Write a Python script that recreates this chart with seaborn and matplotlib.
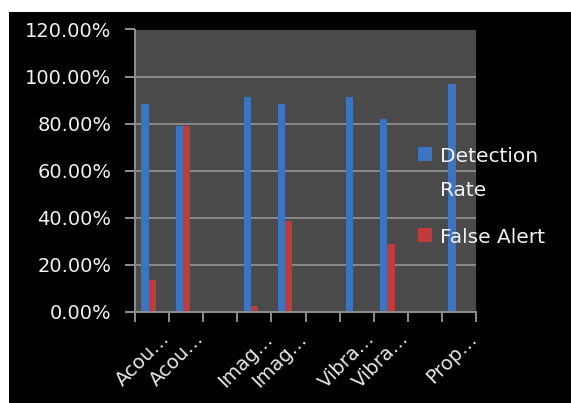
import matplotlib
matplotlib.use("Agg")
import matplotlib.pyplot as plt
import matplotlib.transforms as mtransforms
from matplotlib.patches import Rectangle
from matplotlib.ticker import PercentFormatter, MultipleLocator, FixedLocator
import seaborn as sns
import pandas as pd

# ---- data ----
categories = ["Acou 1", "Acou 2", "gap 1", "Imag 1", "Imag 2", "gap 2",
              "Vibra 1", "Vibra 2", "gap 3", "Prop 1"]
tick_labels = ["Acou…", "Acou…", "", "Imag…", "Imag…", "",
               "Vibra…", "Vibra…", "", "Prop…"]
detection_rate = [0.883, 0.789, 0.0, 0.915, 0.883, 0.0, 0.915, 0.821, 0.0, 0.967]
false_alert = [0.134, 0.789, 0.0, 0.024, 0.387, 0.0, 0.0, 0.289, 0.0, 0.0]
series = ["Detection\nRate", "False Alert"]
colors = ["#3d74c2", "#c23b3b"]

df = pd.DataFrame({
    "category": categories * 2,
    "series": [series[0]] * len(categories) + [series[1]] * len(categories),
    "value": detection_rate + false_alert,
})

sns.set_theme(style="white")
plt.rcParams["font.family"] = ["DejaVu Sans"]

W, H = 571, 403
fig = plt.figure(figsize=(W / 100, H / 100), dpi=100, facecolor="white")
fig.patches.append(Rectangle((9 / W, 0), 1 - 9 / W, 1 - 12 / H, transform=fig.transFigure,
                             facecolor="black", edgecolor="none", zorder=-10))

ax = fig.add_axes([135 / W, 1 - 311.7 / H, (476 - 135) / W, (311.7 - 29.5) / H])
ax.set_facecolor("#4a4a4a")

sns.barplot(data=df, x="category", y="value", hue="series", order=categories,
            hue_order=series, palette=colors, width=0.42, gap=0, saturation=1,
            edgecolor="none", ax=ax)

ax.set_xlim(-0.4, len(categories) - 0.4)
ax.set_ylim(0, 1.2)
ax.yaxis.set_major_locator(MultipleLocator(0.2))
ax.yaxis.set_major_formatter(PercentFormatter(xmax=1, decimals=2))
ax.grid(axis="y", color="#8e8e8e", lw=1.3)
ax.grid(axis="x", visible=False)
ax.set_axisbelow(True)
ax.set_xlabel("")
ax.set_ylabel("")

for s in ["top", "right"]:
    ax.spines[s].set_visible(False)
for s in ["left", "bottom"]:
    ax.spines[s].set_color("#8e8e8e")
    ax.spines[s].set_linewidth(1.4)

# x ticks: boundary marks (minor) + labels at centres (major)
ax.set_xticks(range(len(categories)))
ax.set_xticklabels(tick_labels, rotation=45, ha="right", va="top")
ax.xaxis.set_minor_locator(FixedLocator([k - 0.4 for k in range(len(categories) + 1)]))
ax.tick_params(axis="x", which="major", length=0, pad=12.5, labelsize=14, labelcolor="#e6e6e6")
ax.tick_params(axis="x", which="minor", bottom=True, length=7, width=1.4, color="#8e8e8e")
off = mtransforms.ScaledTranslation(18 / 72, 0, fig.dpi_scale_trans)
for lbl in ax.get_xticklabels():
    lbl.set_transform(lbl.get_transform() + off)

ax.tick_params(axis="y", which="major", left=True, length=7, width=1.4, color="#8e8e8e",
               pad=10, labelsize=14, labelcolor="#f2f2f2")

leg = ax.legend(title=None, loc="upper left", bbox_to_anchor=(418 / W, 1 - 147 / H),
                bbox_transform=fig.transFigure, frameon=False, fontsize=14.5,
                labelcolor="#f2f2f2", handlelength=0.7, handleheight=0.7,
                handletextpad=0.4, labelspacing=1.4, borderpad=0, borderaxespad=0)
for t in leg.get_texts():
    t.set_linespacing(2.0)
for col in leg._legend_handle_box.get_children():
    for row in col.get_children():
        row.align = "top"

fig.savefig("out.png", dpi=100, facecolor=fig.get_facecolor())
